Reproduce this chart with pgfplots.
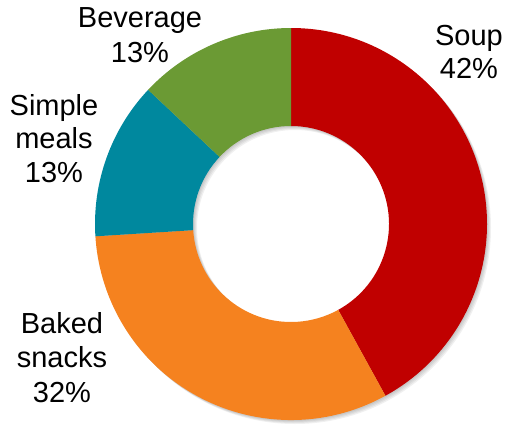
\documentclass[border=0pt]{standalone}
\usepackage{pgfplots}
\usepackage{pgfplotstable}
\pgfplotsset{compat=1.18}
\usepackage{fontspec}
\setmainfont{Liberation Sans}
\definecolor{soupc}{HTML}{C00000}
\definecolor{bakedc}{HTML}{F5821F}
\definecolor{simplec}{HTML}{00889E}
\definecolor{bevc}{HTML}{6B9A34}

\pgfplotstableread{
label value
Soup 42
Baked 32
Simple 13
Beverage 13
}\piedata

\pgfplotstablegetelem{0}{value}\of\piedata \let\vA\pgfplotsretval
\pgfplotstablegetelem{1}{value}\of\piedata \let\vB\pgfplotsretval
\pgfplotstablegetelem{2}{value}\of\piedata \let\vC\pgfplotsretval
\pgfplotstablegetelem{3}{value}\of\piedata \let\vD\pgfplotsretval
\pgfmathsetmacro{\aA}{90}
\pgfmathsetmacro{\aB}{\aA-3.6*\vA}
\pgfmathsetmacro{\aC}{\aB-3.6*\vB}
\pgfmathsetmacro{\aD}{\aC-3.6*\vC}
\pgfmathsetmacro{\aE}{\aD-3.6*\vD}

\newcommand{\ringwedge}[3]{%
  \fill[#3, shift={(axis cs:291,200)}] (#1:196pt) arc[start angle=#1, end angle=#2, radius=196pt]
    -- (#2:98pt) arc[start angle=#2, end angle=#1, radius=98pt] -- cycle;}

\begin{document}
\begin{tikzpicture}
\begin{axis}[x=1pt, y=1pt, xmin=0, xmax=508, ymin=0, ymax=424,
  hide axis, clip=false, scale only axis, at={(0,0)}, anchor=south west]
  % soft shadow
  \pgfplotsinvokeforeach{1,2,3,4}{
    \fill[black, opacity=0.06, even odd rule, shift={(axis cs:291,200)}, xshift=#1pt, yshift=-#1pt]
      (0,0) circle[radius=196pt] (0,0) circle[radius=98pt];
  }
  \ringwedge{\aA}{\aB}{soupc}
  \ringwedge{\aB}{\aC}{bakedc}
  \ringwedge{\aC}{\aD}{simplec}
  \ringwedge{\aD}{\aE}{bevc}
  \begin{scope}[every node/.style={anchor=base, inner sep=0pt, font=\fontsize{29}{33.5}\selectfont}]
    \node at (axis cs:469,379) {Soup};
    \node at (axis cs:469,346) {42\%};
    \node at (axis cs:140,396) {Beverage};
    \node at (axis cs:140,362) {13\%};
    \node at (axis cs:54,309) {Simple};
    \node at (axis cs:54,276) {meals};
    \node at (axis cs:54,242) {13\%};
    \node at (axis cs:62,91) {Baked};
    \node at (axis cs:62,57) {snacks};
    \node at (axis cs:62,22) {32\%};
  \end{scope}
\end{axis}
\pgfresetboundingbox
\path[use as bounding box] (0,0) rectangle (508pt,424pt);
\end{tikzpicture}
\end{document}
